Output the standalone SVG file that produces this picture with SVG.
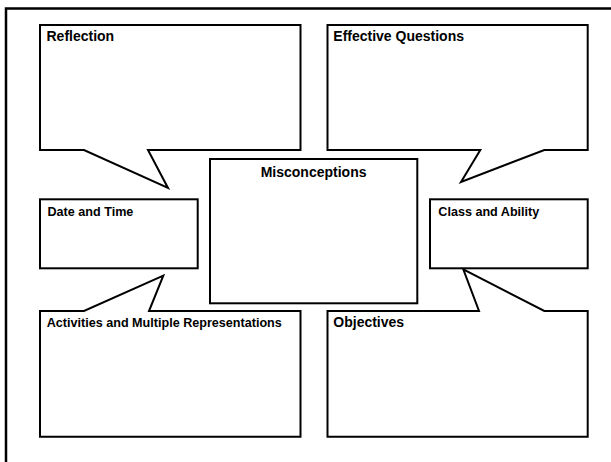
<svg xmlns="http://www.w3.org/2000/svg" width="611" height="462" viewBox="0 0 611 462">
<style>
.s{fill:#fff;stroke:#000;stroke-width:2;stroke-linejoin:miter}
.t{font-family:"Liberation Sans",Arial,sans-serif;font-weight:bold;fill:#000}
.big{font-size:14px}
.sm{font-size:12.6px}
</style>
<rect x="0" y="0" width="611" height="462" fill="#fff"/>
<rect id="frame" x="6" y="8.5" width="700" height="500" fill="none" stroke="#000" stroke-width="2.5"/>
<g id="reflection">
<path class="s" d="M40,25 H300.5 V150 H148 L168,188 L84,150 H40 Z"/>
<text class="t big" x="46.5" y="40.7">Reflection</text>
</g>
<g id="effective-questions">
<path class="s" d="M327.5,25 H587.7 V150 H544.3 L461,182 L480.3,150 H327.5 Z"/>
<text class="t big" x="333.3" y="40.7">Effective Questions</text>
</g>
<g id="misconceptions">
<rect class="s" x="210" y="159" width="207.3" height="144.3"/>
<text class="t big" x="313.6" y="176.5" text-anchor="middle">Misconceptions</text>
</g>
<g id="date-and-time">
<rect class="s" x="40" y="199.3" width="157.7" height="69"/>
<text class="t sm" x="47.5" y="216">Date and Time</text>
</g>
<g id="class-and-ability">
<rect class="s" x="430" y="199.3" width="157.7" height="69"/>
<text class="t sm" x="438.3" y="216">Class and Ability</text>
</g>
<g id="activities">
<path class="s" d="M40,311 H84 L163.3,275.7 L149,311 H300.5 V436.7 H40 Z"/>
<text class="t sm" x="46.7" y="326.7">Activities and Multiple Representations</text>
</g>
<g id="objectives">
<path class="s" d="M327.5,311 H479 L463.3,269.3 L544.3,311 H587.7 V436.7 H327.5 Z"/>
<text class="t big" x="333.3" y="327.3">Objectives</text>
</g>
<g id="connectors"></g>
</svg>
